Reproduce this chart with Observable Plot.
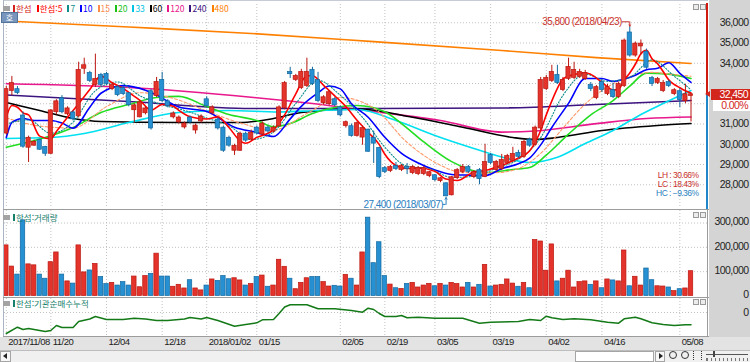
<!DOCTYPE html>
<html lang="ko"><head><meta charset="utf-8">
<script src="https://cdn.jsdelivr.net/npm/d3@7"></script>
<script src="https://cdn.jsdelivr.net/npm/@observablehq/plot@0.6"></script>
<style>
html,body{margin:0;padding:0;background:#fff;}
#wrap{position:relative;width:750px;height:362px;overflow:hidden;background:#fff;}
#wrap > *{position:absolute;box-sizing:border-box;}
.num{font-family:"Liberation Sans",Arial,sans-serif;letter-spacing:-0.6px;}
.kr{font-family:"Noto Sans CJK KR","Noto Sans",sans-serif;}
</style></head><body><div id="wrap"></div><script>
// ---------------- data ----------------
const stock = "한섬";
const dates = ["2017/11/08","2017/11/09","2017/11/10","2017/11/13","2017/11/14","2017/11/15","2017/11/16","2017/11/17","2017/11/20","2017/11/21","2017/11/22","2017/11/23","2017/11/24","2017/11/27","2017/11/28","2017/11/29","2017/11/30",
"2017/12/01","2017/12/04","2017/12/05","2017/12/06","2017/12/07","2017/12/08","2017/12/11","2017/12/12","2017/12/13","2017/12/14","2017/12/15","2017/12/18","2017/12/19","2017/12/20","2017/12/21","2017/12/22","2017/12/26","2017/12/27","2017/12/28",
"2018/01/02","2018/01/03","2018/01/04","2018/01/05","2018/01/08","2018/01/09","2018/01/10","2018/01/11","2018/01/12","2018/01/15","2018/01/16","2018/01/17","2018/01/18","2018/01/19","2018/01/22","2018/01/23","2018/01/24","2018/01/25","2018/01/26","2018/01/29","2018/01/30","2018/01/31",
"2018/02/01","2018/02/02","2018/02/05","2018/02/06","2018/02/07","2018/02/08","2018/02/09","2018/02/12","2018/02/13","2018/02/14","2018/02/19","2018/02/20","2018/02/21","2018/02/22","2018/02/23","2018/02/26","2018/02/27","2018/02/28",
"2018/03/02","2018/03/05","2018/03/06","2018/03/07","2018/03/08","2018/03/09","2018/03/12","2018/03/13","2018/03/14","2018/03/15","2018/03/16","2018/03/19","2018/03/20","2018/03/21","2018/03/22","2018/03/23","2018/03/26","2018/03/27","2018/03/28","2018/03/29","2018/03/30",
"2018/04/02","2018/04/03","2018/04/04","2018/04/05","2018/04/06","2018/04/09","2018/04/10","2018/04/11","2018/04/12","2018/04/13","2018/04/16","2018/04/17","2018/04/18","2018/04/19","2018/04/20","2018/04/23","2018/04/24","2018/04/25","2018/04/26","2018/04/27","2018/04/30",
"2018/05/02","2018/05/03","2018/05/04","2018/05/08","2018/05/09","2018/05/10"];

const open = [30550,32650,32700,31400,29850,29950,30200,29850,29550,31600,
32250,31500,31550,31400,33750,33500,32950,33400,33450,32750,
32800,32750,32500,31700,31350,31550,32600,32400,33150,32100,
31350,31100,30850,31300,30700,31150,32200,31550,31200,30800,
30300,29700,29700,30500,30250,30800,30500,30800,30650,30900,
31800,33550,33200,32800,32900,33650,33150,32050,32000,32200,
31800,30920,30870,30430,30350,30700,30300,29800,28800,28700,
28900,28750,28850,28600,28550,28550,28450,28450,28200,28050,
27500,28350,28650,28850,28400,28700,28400,29450,28750,28800,
29100,29200,29550,29400,30200,30000,30800,32750,33150,33400,
32700,33250,33300,33350,33250,32900,32300,33050,32500,32650,
32350,32900,35500,34400,34850,34550,33250,33050,32650,33050,
32500,32600,32150,32400];
const high = [32850,33350,32850,31600,30400,30200,30250,29900,31700,32200,
32400,31850,31650,34050,34250,33600,34450,33500,33550,33000,
32900,32850,32550,32000,32150,31850,32700,33300,33550,32200,
31600,31400,31100,31400,31000,31450,32350,31900,31300,30900,
30400,30000,30600,30600,30700,30900,31100,30900,30900,31900,
33100,33800,33450,33700,34250,33800,33550,32400,32650,32300,
31900,31150,31000,31100,30900,30750,30650,29850,28900,28950,
29100,29000,29050,28950,28900,28900,28650,28500,28350,28100,
28400,28800,29000,28950,28700,28800,30000,29550,29200,29500,
29500,29850,29700,30200,30300,30900,33300,33400,33900,33900,
33300,34250,34050,33700,33650,33050,32900,33200,32950,33000,
33050,35200,35800,35050,35150,34700,33350,33300,33150,33150,
32750,32750,32950,32500];
const low = [30450,32400,32450,29800,29100,29900,29700,29400,29500,31450,
31500,31400,31150,31300,33450,33050,32800,32850,32900,32650,
32350,32400,31850,31050,31300,31450,30700,32300,32050,31800,
31250,31000,30750,31000,30500,31050,31800,31450,30700,29600,
29850,29450,29650,30100,30150,30450,30400,30550,30550,30850,
31700,33250,33100,32700,32800,32900,32050,31950,31900,31850,
31350,30800,30350,30350,29950,29600,29050,28300,28550,28600,
28700,28650,28500,28500,28450,28450,28350,28150,28100,27400,
27450,28250,28550,28550,28300,28000,28350,29000,28650,28700,
29000,29100,29300,29300,29850,29900,30700,32650,33050,32950,
32600,33150,33200,33250,33150,32600,32200,32550,32400,32250,
32250,32800,34300,34300,34400,33700,32850,32950,32550,32800,
32400,31800,32000,31100];
const close = [32700,33000,32550,29900,30300,30100,29750,29550,31650,32100,
31600,31750,31250,33650,33880,33150,33200,32950,33000,32900,
32450,32500,31950,31900,32050,31750,30800,33050,32150,31900,
31500,31300,31000,31100,30900,31350,31900,31800,30800,29700,
29950,29900,30500,30200,30550,30550,31000,30650,30800,31800,
33000,33480,33350,33550,33550,33000,32150,32300,32550,31950,
31450,31070,30430,31020,30780,29650,30050,28400,28650,28850,
28800,28900,28800,28850,28800,28800,28600,28250,28300,27450,
28350,28700,28850,28650,28600,28300,29100,29100,29100,29200,
29400,29500,29400,30100,29950,30800,33150,33250,33550,33050,
33150,33800,33650,33550,33500,32750,32800,32700,32800,32350,
32950,35100,34400,34950,34950,33800,33000,33200,33000,32900,
32650,32200,32450,32450];
const volume = [208000,121000,88000,311000,130000,126000,88000,71000,139000,179000,
88000,60000,51000,208000,97000,105000,132000,78000,49000,54000,
43000,57000,43000,80000,36000,82000,91000,174000,80000,80000,
38000,46000,31000,65000,31000,23000,43000,68000,62000,82000,
69000,73000,64000,43000,49000,78000,84000,38000,43000,149000,
120000,71000,28000,54000,73000,78000,78000,57000,39000,42000,
39000,87000,71000,43000,179000,322000,135000,221000,82000,47000,
32000,29000,50000,54000,35000,43000,50000,40000,50000,43000,
54000,49000,35000,54000,35000,46000,128000,39000,43000,46000,
68000,51000,38000,54000,32000,230000,224000,104000,212000,60000,
71000,104000,35000,57000,60000,46000,60000,32000,68000,64000,
60000,187000,40000,79000,43000,113000,65000,40000,39000,35000,
20000,28000,31000,102000];

// moving averages: [day index, price]
const maPeriods = [5,7,10,15,20,33,60,120,240,480];
const maColors  = ["#ff0000","#0f8c8c","#0000ff","#ff9a6a","#22dd22","#00e0f0","#000000","#e8188c","#3c1480","#ff8000"];
const ma5 = [[0,31340],[1,31910],[2,31830],[3,31550],[4,31450],[6,30400],[8,30270],[9,30630],[11,31330],[13,32000],[15,32700],[17,33366],[19,33040],[21,32760],[22,32560],[24,32170],[26,31690],[28,31960],[30,31880],[31,31670],[33,31360],[36,31250],[38,31350],[40,30830],[42,30170],[43,30050],[45,30340],[48,30710],[50,31450],[52,32486],[54,33386],[55,33386],[57,32910],[59,32390],[61,31864],[63,31184],[65,30590],[67,29980],[68,29506],[70,28950],[72,28800],[74,28830],[77,28660],[79,28280],[81,28210],[84,28630],[86,28700],[89,28960],[92,29320],[94,29670],[96,30680],[97,31450],[98,32140],[99,32760],[100,33230],[102,33440],[104,33530],[105,33450],[107,33060],[109,32680],[110,32720],[111,33180],[112,33520],[113,33950],[114,34470],[115,34640],[116,34220],[117,33980],[118,33590],[119,33180],[120,32950],[121,32790],[122,32640],[123,32530]];
const ma7 = [[0,31000],[4,31200],[8,30543],[12,31093],[16,32640],[20,33076],[24,32393],[28,31950],[32,31671],[36,31293],[40,30914],[44,30229],[48,30607],[52,32011],[56,33154],[60,32421],[64,31321],[68,29854],[72,28921],[76,28793],[80,28364],[84,28414],[88,28814],[92,29257],[96,30329],[100,32414],[104,33464],[108,33107],[112,33300],[116,34164],[120,33357],[123,32693]];
const ma10 = [[0,30333],[1,31074],[3,31272],[5,31173],[8,31173],[10,31050],[12,30795],[15,31833],[17,32518],[21,32893],[25,32665],[27,32435],[31,31835],[36,31615],[41,30840],[45,30585],[48,30380],[51,31253],[53,31873],[56,32533],[58,32873],[60,32733],[62,32000],[65,31335],[68,30345],[71,29553],[74,29075],[77,28730],[80,28510],[83,28475],[86,28455],[89,28795],[92,29035],[94,29315],[96,29970],[98,30830],[101,32020],[104,33245],[107,33250],[109,33105],[111,33215],[113,33410],[115,33680],[117,33750],[119,34025],[121,33505],[123,33060]];
const ma15 = [[0,31300],[6,30900],[12,30800],[18,31860],[24,32545],[30,32270],[36,31640],[42,31050],[48,30700],[54,31520],[60,32305],[66,31790],[72,30090],[78,28965],[82,28600],[88,28600],[92,28800],[96,29550],[100,30790],[104,31990],[108,32830],[112,33340],[116,33550],[120,33440],[123,33360]];
const ma20 = [[0,29855],[7,30333],[12,30827],[17,31568],[22,31963],[27,32309],[31,32364],[36,31864],[40,31468],[45,31173],[48,30868],[51,31025],[55,31519],[59,31815],[63,31910],[68,31609],[71,31022],[75,30112],[80,29140],[86,28600],[91,28750],[94,28850],[97,29463],[101,30500],[105,31452],[109,32160],[112,32868],[115,33510],[119,33465],[123,33245]];
const ma33 = [[0,30284],[8,30333],[14,30531],[22,31074],[31,31568],[40,31667],[49,31593],[56,31667],[63,31716],[70,31173],[77,30432],[84,29790],[90,29297],[94,29099],[99,29361],[104,30037],[109,30679],[114,31470],[118,32012],[123,32654]];
const ma60 = [[0,32062],[6,31667],[12,31272],[17,31124],[31,31075],[42,31075],[48,31272],[53,31568],[63,31741],[73,31336],[82,30842],[91,30333],[95,30234],[99,30333],[107,30679],[117,30926],[123,31025]];
const ma120 = [[0,32985],[22,32800],[44,32320],[55,32010],[66,31620],[78,31170],[89,30600],[95,30655],[106,31020],[115,31270],[123,31345]];
const ma240 = [[0,32430],[22,32110],[44,31765],[66,31765],[89,31790],[106,31960],[123,32160]];
const ma480 = [[0,36090],[22,35790],[44,35470],[66,35070],[89,34630],[106,34280],[123,33990]];
const maSeries = [ma5, ma7, ma10, ma15, ma20, ma33, ma60, ma120, ma240, ma480];

// institutional net buying, cumulative (thousand shares): [day index, value]
const cumNet = [[0,-210],[2,-147],[3,-170],[4,-160],[7,-190],[8,-180],[9,-130],[10,-150],[12,-150],[13,-90],[15,-65],[16,-40],[18,-70],[21,-70],[23,-57],[25,-65],[27,-80],[29,-80],[32,-65],[33,-50],[35,-65],[36,-50],[38,-80],[41,-137],[43,-120],[45,-103],[46,-73],[48,-70],[49,-10],[50,55],[51,77],[54,77],[56,37],[59,37],[62,20],[64,3],[65,43],[66,30],[67,-10],[68,-40],[70,-40],[71,-30],[72,-53],[74,-47],[77,-57],[82,-57],[85,-107],[87,-97],[92,-90],[94,-70],[96,-80],[97,-37],[98,-53],[100,-70],[102,-63],[105,-73],[108,-97],[110,-107],[111,-63],[113,-47],[114,-63],[116,-103],[118,-120],[120,-130],[122,-123],[123,-123]];

const priceTicks = [28000,29000,30000,31000,32000,33000,34000,35000,36000];
const volTicks = [0,100000,200000,300000];
const cumTicks = [0];
const xTickDates  = ["2017/11/08","2017/11/20","2017/12/04","2017/12/18","2018/01/02","2018/01/15","2018/02/05","2018/02/19","2018/03/05","2018/03/19","2018/04/02","2018/04/16","2018/05/08"];
const xTickLabels = ["2017/11/08","11/20","12/04","12/18","2018/01/02","01/15","02/05","02/19","03/05","03/19","04/02","04/16","05/08"];

// ---------------- build ----------------
const fmt = d3.format(",");
const UP = "#e3332a", UPS = "#bb160f", DN = "#2790d2", DNS = "#11689f";
const GRID = "#c2c2c2";
const candles = dates.map((d, i) => ({i, d, o: open[i], h: high[i], l: low[i], c: close[i], v: volume[i], up: close[i] >= open[i]}));
const xTicks = xTickDates.map((d, k) => ({i: dates.indexOf(d), label: xTickLabels[k]}));
const X = {type: "linear", domain: [0, dates.length - 1], range: [5.8, 690.5], axis: null};
const FONT = '"Liberation Sans",Arial,sans-serif';
const style = {background: "transparent", fontFamily: FONT, fontSize: "10px", color: "#222", overflow: "visible", letterSpacing: "-0.55px"};

const wrap = document.getElementById("wrap");
function add(css, html, cls) {
  const e = document.createElement("div");
  e.style.cssText = css;
  if (cls) e.className = cls;
  if (html != null) e.innerHTML = html;
  wrap.appendChild(e);
  return e;
}
function place(svg, top) { svg.style.position = "absolute"; svg.style.left = "0px"; svg.style.top = top + "px"; wrap.appendChild(svg); return svg; }

// backgrounds
add("left:709px;top:0;width:41px;height:337px;background:#d4d4d4;");
add("left:0;top:337px;width:750px;height:13px;background:#e3e3e3;");
add("left:0;top:350px;width:750px;height:12px;background:#f0f0f0;border-top:1px solid #bdbdbd;");

// price panel
const yDom = [28000, 36000], yRng = [184.25, 22.25];
const pxP = (yDom[1] - yDom[0]) / (yRng[0] - yRng[1]);
const hiIdx = d3.maxIndex(high), loIdx = d3.minIndex(low);
const last = close[close.length - 1], prev = close[close.length - 2];
const hiA = [{i: hiIdx, p: high[hiIdx], t: `${fmt(high[hiIdx])} (${dates[hiIdx]})`}];
const loA = [{i: loIdx, p: low[loIdx], t: `${fmt(low[loIdx])} (${dates[loIdx]})`}];
const pct = v => d3.format(".2f")(v * 100) + "%";
// price tick labels hidden behind the current-price box are not drawn (as in the original)
const visiblePriceLabels = priceTicks.filter(t => Math.abs(t - last) / pxP > 14);
const lineMarks = maSeries.map((s, k) => Plot.line(s, {
  x: d => d[0], y: d => d[1], stroke: maColors[k],
  strokeWidth: (maPeriods[k] === 7 || maPeriods[k] === 15) ? 1.1 : 1.6,
  strokeDasharray: maPeriods[k] === 7 ? "1.2,1.8" : maPeriods[k] === 15 ? "3,2" : null,
  curve: "monotone-x"
})).reverse();

const pricePlot = Plot.plot({
  width: 750, height: 209, marginTop: 4, marginBottom: 1, marginLeft: 4, marginRight: 43,
  x: X, y: {type: "linear", domain: yDom, range: yRng, axis: null},
  color: {type: "identity"}, style,
  marks: [
    Plot.ruleY(priceTicks, {stroke: GRID, strokeDasharray: "1,2"}),
    Plot.ruleX(xTicks, {x: "i", stroke: GRID, strokeDasharray: "1,2"}),
    ...lineMarks,
    Plot.ruleX(candles, {x: "i", y1: "l", y2: "h", stroke: d => d.up ? UPS : DNS, strokeWidth: 1}),
    Plot.rect(candles, {x1: d => d.i - 0.38, x2: d => d.i + 0.38, y1: d => Math.min(d.o, d.c), y2: d => Math.max(d.o, d.c),
      fill: d => d.up ? UP : DN, stroke: d => d.up ? UPS : DNS, strokeWidth: 0.7, insetTop: -0.4, insetBottom: -0.4}),
    Plot.text(hiA, {x: "i", y: "p", text: "t", textAnchor: "end", dx: -8, dy: -5, fill: "#c8302a", fontSize: 10}),
    Plot.ruleY(hiA, {x1: d => d.i - 1.35, x2: "i", y: "p", dy: -5, stroke: "#c8302a"}),
    Plot.arrow(hiA, {x1: "i", x2: "i", y1: d => d.p + 5 * pxP, y2: d => d.p + 0.6 * pxP, stroke: "#c8302a", strokeWidth: 1, headLength: 3}),
    Plot.text(loA, {x: "i", y: "p", text: "t", textAnchor: "end", dx: -3, dy: 7.5, fill: "#2a80c0", fontSize: 10}),
    Plot.ruleY(loA, {x1: d => d.i - 0.55, x2: "i", y: "p", dy: 7.5, stroke: "#2a80c0"}),
    Plot.arrow(loA, {x1: "i", x2: "i", y1: d => d.p - 7.5 * pxP, y2: d => d.p - 0.6 * pxP, stroke: "#2a80c0", strokeWidth: 1, headLength: 3}),
    Plot.text([`LH : ${pct(high[hiIdx] / low[loIdx] - 1)}`], {frameAnchor: "bottom-right", textAnchor: "end", dx: -9, dy: -30.5, fill: "#c8302a", fontSize: 8.5}),
    Plot.text([`LC : ${pct(last / low[loIdx] - 1)}`], {frameAnchor: "bottom-right", textAnchor: "end", dx: -9, dy: -21.5, fill: "#c8302a", fontSize: 8.5}),
    Plot.text([`HC : ${pct(last / high[hiIdx] - 1)}`], {frameAnchor: "bottom-right", textAnchor: "end", dx: -9, dy: -12.5, fill: "#2a80c0", fontSize: 8.5}),
    Plot.text(visiblePriceLabels, {y: d => d, text: d => fmt(d), frameAnchor: "right", textAnchor: "end", dx: 41, fontSize: 10.5, fill: "#222"})
  ]
});
place(pricePlot, 0);

// volume panel
const volPlot = Plot.plot({
  width: 750, height: 88, marginTop: 1, marginBottom: 1, marginLeft: 4, marginRight: 43,
  x: X, y: {type: "linear", domain: [0, 300000], range: [86.5, 13.5], axis: null},
  color: {type: "identity"}, style,
  marks: [
    Plot.ruleY(volTicks.filter(v => v > 0), {stroke: GRID, strokeDasharray: "1,2"}),
    Plot.ruleX(xTicks, {x: "i", stroke: GRID, strokeDasharray: "1,2"}),
    Plot.rect(candles, {x1: d => d.i - 0.4, x2: d => d.i + 0.4, y1: 0, y2: "v", fill: d => d.up ? UP : DN, stroke: d => d.up ? UPS : DNS, strokeWidth: 0.7}),
    Plot.text(volTicks, {y: d => d, text: d => fmt(d), frameAnchor: "right", textAnchor: "end", dx: 41, dy: -1, fontSize: 10.5, fill: "#222"})
  ]
});
place(volPlot, 209);

// cumulative institutional panel + date axis
const cumPlot = Plot.plot({
  width: 750, height: 53, marginTop: 1, marginBottom: 14, marginLeft: 4, marginRight: 43,
  x: X, y: {type: "linear", domain: [-240, 140], range: [39, 1], axis: null},
  style,
  marks: [
    Plot.ruleY(cumTicks, {stroke: GRID, strokeDasharray: "1,2"}),
    Plot.ruleX(xTicks, {x: "i", y1: 140, y2: -240, stroke: GRID, strokeDasharray: "1,2"}),
    Plot.line(cumNet, {x: d => d[0], y: d => d[1], stroke: "#137a17", strokeWidth: 1.5}),
    Plot.text(cumTicks, {y: d => d, text: d => fmt(d), frameAnchor: "right", textAnchor: "end", dx: 41, fontSize: 10.5, fill: "#222"}),
    Plot.text(xTicks, {x: "i", text: "label", frameAnchor: "bottom", lineAnchor: "top", textAnchor: "start", dx: 2, dy: 2, fontSize: 9.5, fill: "#222"})
  ]
});
place(cumPlot, 297);

// frame lines
add("left:3px;top:0;width:705px;height:1px;background:#c6ccd6;");
add("left:3px;top:0;width:1px;height:337px;background:#aab4c2;");
add("left:3px;top:209px;width:706px;height:1px;background:#9c9c9c;");
add("left:3px;top:297px;width:706px;height:1px;background:#9c9c9c;");
add("left:3px;top:336px;width:706px;height:1px;background:#9c9c9c;");
add("left:707px;top:209px;width:1px;height:128px;background:#9c9c9c;");

// current price marker on the right edge
const ys = pricePlot.scale("y");
const yCur = ys.apply(last);
add(`left:706px;top:3px;width:2px;height:${yCur - 3}px;background:#d01a10;`);
add(`left:706px;top:${yCur}px;width:2px;height:${209 - yCur}px;background:#1f86c8;`);
add(`left:711px;top:${yCur - 5.5}px;width:39px;height:11px;background:#d3261c;color:#fff;font-size:10.5px;line-height:11px;text-align:right;padding-right:2px;`, fmt(last), "num");
add(`left:713px;top:${yCur + 5.5}px;width:37px;height:11px;background:#fff;color:#d3261c;font-size:10.5px;line-height:11px;text-align:right;padding-right:2px;`, pct(last / prev - 1), "num");
add(`left:705px;top:${yCur - 3}px;width:0;height:0;border-top:3px solid transparent;border-bottom:3px solid transparent;border-right:5px solid #d3261c;`);

// small window buttons
[4, 212, 299].forEach(t => {
  add(`left:693px;top:${t}px;width:6px;height:6px;border:1px solid #9a9a9a;background:#ececec;`);
  add(`left:700px;top:${t}px;width:6px;height:6px;border:1px solid #9a9a9a;background:#ececec;`);
});

// legends
const legItems = [{t: stock, c: "#d42020"}].concat(maPeriods.map((p, k) => ({t: k === 0 ? `${stock}:${p}` : String(p), c: k === 0 ? "#ff0000" : maColors[k] === "#22dd22" ? "#18c018" : maColors[k] === "#00e0f0" ? "#00c4e4" : maColors[k] === "#ff9a6a" ? "#ff8a4a" : maColors[k]})));
const leg = add("left:3px;top:3px;height:10px;display:flex;align-items:center;white-space:nowrap;font-size:8.5px;line-height:10px;", null, "kr");
leg.innerHTML = `<span style="display:inline-block;width:7px;height:5px;background:#a3a3a3;margin-right:3px"></span>` +
  legItems.map(d => `<span style="display:inline-block;width:2px;height:7px;background:${d.c};margin-right:1px"></span><span style="color:${d.c};margin-right:5px">${d.t}</span>`).join("");
function subLegend(top, text) {
  add(`left:3px;top:${top}px;height:10px;display:flex;align-items:center;white-space:nowrap;font-size:8.5px;line-height:10px;`,
    `<span style="display:inline-block;width:7px;height:5px;background:#a3a3a3;margin-right:3px"></span><span style="display:inline-block;width:2px;height:7px;background:#16806c;margin-right:1px"></span><span style="color:#16806c">${text}</span>`, "kr");
}
subLegend(212, `${stock}:거래량`);
subLegend(298, `${stock}:기관순매수누적`);

// "호" button
add("left:1px;top:12px;width:17px;height:11px;background:#7896bd;border:1px solid #56739a;color:#fff;font-size:8px;line-height:9px;text-align:center;", "호", "kr");

// bottom scroll bar
add("left:0;top:351px;width:11px;height:11px;border:1px solid #a5a5a5;background:#f7f7f7;");
add("left:3px;top:353px;width:0;height:0;border-top:3px solid transparent;border-bottom:3px solid transparent;border-right:4px solid #222;");
add("left:575px;top:351px;width:79px;height:11px;border:1px solid #a5a5a5;background:#fff;");
add("left:655px;top:351px;width:10px;height:11px;border:1px solid #a5a5a5;background:#f7f7f7;");
add("left:659px;top:353px;width:0;height:0;border-top:3px solid transparent;border-bottom:3px solid transparent;border-left:4px solid #222;");
add("left:669px;top:351px;width:8px;height:8px;border:1px solid #333;border-radius:50%;");
add("left:681px;top:351px;width:8px;height:8px;border:1px solid #333;border-radius:50%;");
add("left:693px;top:351px;width:9px;height:9px;border-left:1px dotted #333;border-right:1px dotted #333;");
add("left:706px;top:354px;width:42px;height:1px;background:#555;");
add("left:713px;top:351px;width:2px;height:6px;background:#444;");
add("left:706px;top:358px;width:42px;height:3px;border-left:1px solid #777;background:repeating-linear-gradient(90deg,#777 0 1px,transparent 1px 4px);");
</script></body></html>
